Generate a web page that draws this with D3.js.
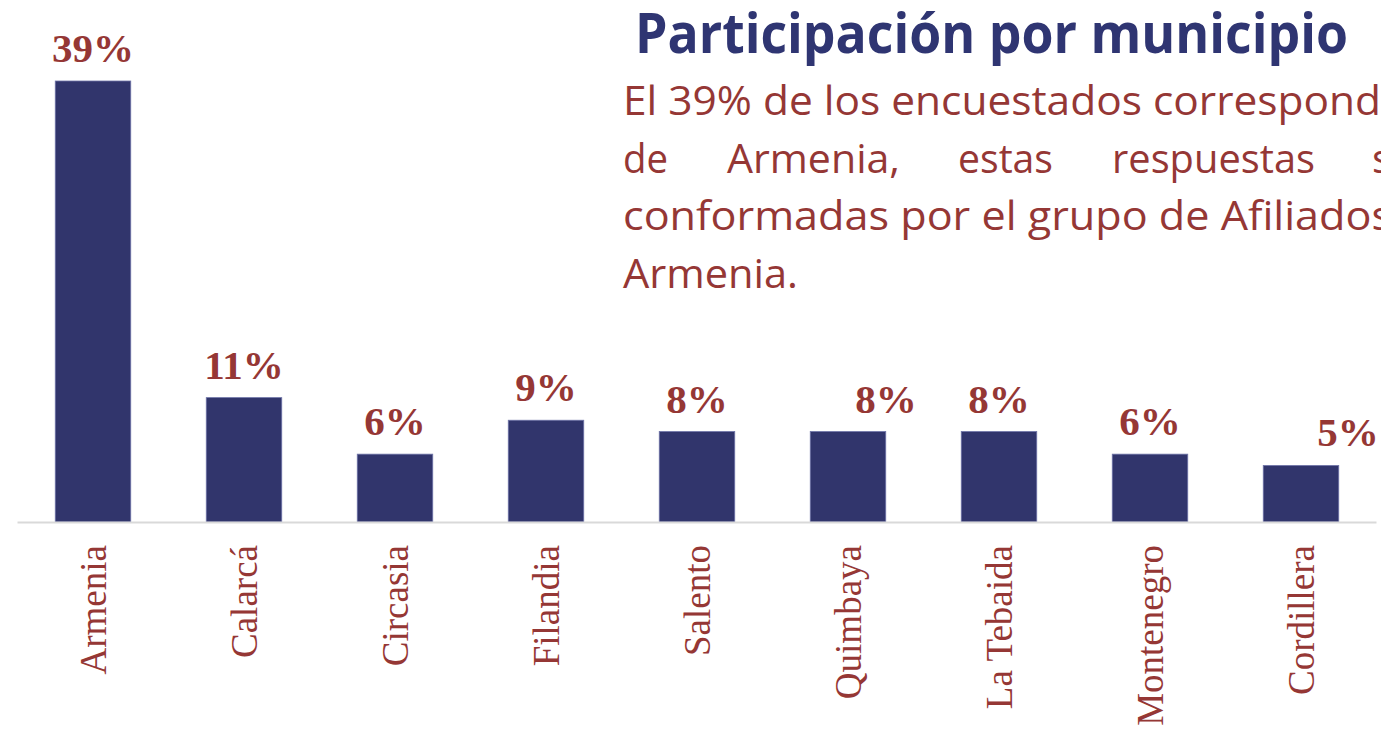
<!DOCTYPE html>
<html>
<head>
<meta charset="utf-8">
<script src="https://cdn.jsdelivr.net/npm/d3@7"></script>
<style>
  html, body { margin: 0; padding: 0; background: #fff; }
  svg { display: block; }
</style>
</head>
<body>
<svg id="chart" width="1381" height="729"></svg>
<script>
// datos
const municipios = ['Armenia', 'Calarcá', 'Circasia', 'Filandia', 'Salento', 'Quimbaya', 'La Tebaida', 'Montenegro', 'Cordillera']
const participacion = [39, 11, 6, 9, 8, 8, 8, 6, 5]
// desplazamiento horizontal de algunas etiquetas (como en el original)
const labelShift = [0, 0, 0, 0, 0, 38, 0, 0, 47]

const titulo = 'Participación por municipio'
// texto del cuadro (se corta en el borde derecho)
const parrafo = [
  { words: ['El 39% de los encuestados correspond'], x: [623], w: [758] },
  { words: ['de', 'Armenia,', 'estas', 'respuestas', 's'], x: [623, 727, 958, 1112, 1372], w: [45, 173, 95, 203, null] },
  { words: ['conformadas por el grupo de Afiliados'], x: [623], w: [769] },
  { words: ['Armenia.'], x: [623], w: [175] }
]

const width = 1381
const height = 729
const red = '#953735'
const navy = '#31356c'

const svg = d3.select('#chart')

const x = d3.scaleBand()
  .domain(municipios)
  .range([17.5, 1376.5])
  .paddingInner(0.5)
  .paddingOuter(0.25)

const y = d3.scaleLinear()
  .domain([0, 39])
  .range([522, 81])

// barras
svg.append('g')
  .selectAll('rect')
  .data(participacion)
  .enter()
  .append('rect')
  .attr('x', (d, i) => x(municipios[i]))
  .attr('y', d => y(d))
  .attr('width', x.bandwidth())
  .attr('height', d => y(0) - y(d))
  .attr('fill', navy)
  .attr('stroke', '#6f74a8')
  .attr('stroke-width', 0.8)

// eje
const axis = svg.append('g')
  .attr('transform', `translate(0,${y(0)})`)
  .call(d3.axisBottom(x).tickSize(0).tickPadding(0))

axis.select('.domain')
  .attr('stroke', '#d9d9d9')
  .attr('stroke-width', 2)
  .attr('d', 'M17.5,0.5H1376.5')

axis.selectAll('.tick text')
  .attr('transform', 'rotate(-90)')
  .attr('x', -23)
  .attr('y', 0)
  .attr('dy', '0.35em')
  .attr('text-anchor', 'end')
  .attr('fill', red)
  .style('font-family', '"Liberation Serif", "Times New Roman", serif')
  .style('font-size', '37px')

// etiquetas de valor
svg.append('g')
  .selectAll('text')
  .data(participacion)
  .enter()
  .append('text')
  .attr('x', (d, i) => x(municipios[i]) + x.bandwidth() / 2 + labelShift[i])
  .attr('y', d => y(d) - 19)
  .attr('text-anchor', 'middle')
  .attr('fill', red)
  .style('font-family', '"Liberation Serif", "Times New Roman", serif')
  .style('font-weight', 'bold')
  .style('font-size', '41px')
  .text(d => d + '%')

// título
svg.append('text')
  .attr('x', 635)
  .attr('y', 53)
  .attr('fill', '#2f3572')
  .attr('textLength', 713)
  .attr('lengthAdjust', 'spacingAndGlyphs')
  .style('font-family', '"Open Sans", sans-serif')
  .style('font-weight', 'bold')
  .style('font-size', '56px')
  .text(titulo)

// párrafo
const lines = svg.append('g')
  .attr('fill', red)
  .style('font-family', '"Open Sans", sans-serif')
  .style('font-size', '41px')

parrafo.forEach((line, li) => {
  line.words.forEach((w, wi) => {
    const t = lines.append('text')
      .attr('x', line.x[wi])
      .attr('y', 115 + li * 57.5)
      .text(w)
    if (line.w[wi]) {
      t.attr('textLength', line.w[wi]).attr('lengthAdjust', 'spacingAndGlyphs')
    }
  })
})
</script>
</body>
</html>
